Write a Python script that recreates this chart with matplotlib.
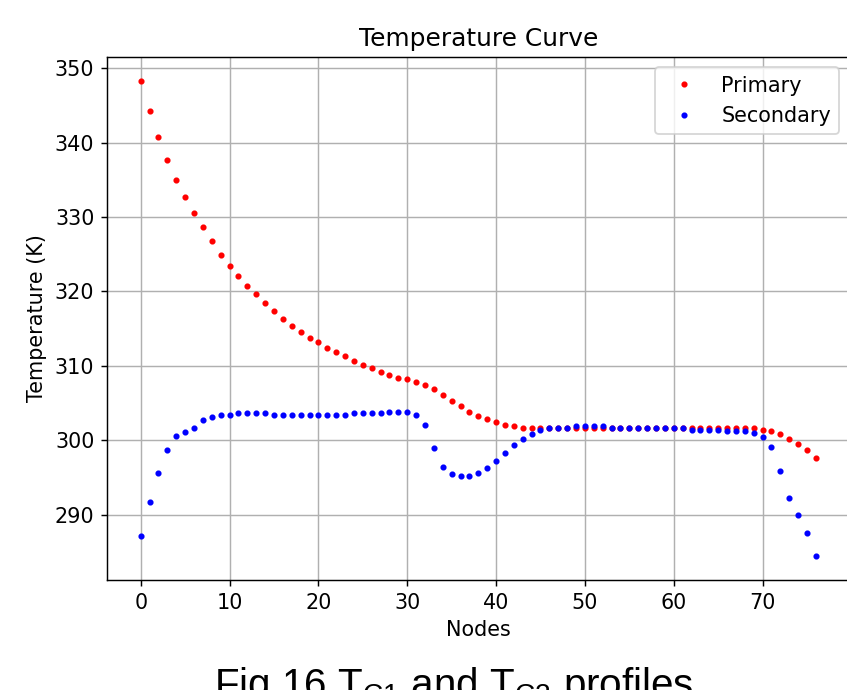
import numpy as np
import matplotlib
matplotlib.use("Agg")
import matplotlib.pyplot as plt

# Node index along the exchanger
nodes = list(range(77))

# Primary side temperature (K)
primary = [348.3, 344.2, 340.7, 337.7, 335.0, 332.7, 330.5, 328.6, 326.7, 324.9,
           323.4, 322.1, 320.7, 319.6, 318.5, 317.3, 316.3, 315.4, 314.6, 313.7,
           313.2, 312.4, 311.8, 311.3, 310.7, 310.1, 309.7, 309.2, 308.8, 308.4,
           308.2, 307.8, 307.4, 306.9, 306.1, 305.3, 304.6, 303.8, 303.3, 302.9,
           302.5, 302.1, 301.9, 301.7, 301.7, 301.7, 301.7, 301.7, 301.7, 301.7,
           301.7, 301.7, 301.7, 301.7, 301.7, 301.7, 301.7, 301.7, 301.7, 301.7,
           301.7, 301.7, 301.6, 301.6, 301.6, 301.6, 301.6, 301.6, 301.6, 301.6,
           301.4, 301.2, 300.8, 300.2, 299.5, 298.7, 297.6]

# Secondary side temperature (K)
secondary = [287.1, 291.7, 295.6, 298.7, 300.6, 301.1, 301.7, 302.7, 303.1, 303.4,
             303.4, 303.6, 303.6, 303.6, 303.6, 303.4, 303.4, 303.4, 303.4, 303.4,
             303.4, 303.4, 303.4, 303.4, 303.6, 303.7, 303.7, 303.7, 303.8, 303.8,
             303.8, 303.4, 302.1, 298.9, 296.4, 295.5, 295.2, 295.2, 295.6, 296.2,
             297.2, 298.3, 299.3, 300.2, 300.8, 301.3, 301.6, 301.7, 301.7, 301.9,
             301.9, 301.9, 301.9, 301.7, 301.7, 301.7, 301.7, 301.6, 301.6, 301.6,
             301.6, 301.6, 301.4, 301.4, 301.4, 301.4, 301.2, 301.2, 301.2, 300.9,
             300.4, 299.1, 295.8, 292.2, 290.0, 287.5, 284.4]

plt.rcParams['font.size'] = 11.5
plt.rcParams['mathtext.fontset'] = 'custom'
plt.rcParams['mathtext.rm'] = 'Liberation Sans'
plt.rcParams['mathtext.it'] = 'Liberation Sans'

fig = plt.figure(figsize=(847 / 130, 690 / 130), dpi=130)
ax = fig.add_axes([0.1263, 0.1594, 0.8768, 0.758])

ax.plot(nodes, primary, 'r.', ms=4.8, label='Primary')
ax.plot(nodes, secondary, 'b.', ms=4.8, label='Secondary')
ax.set_title('Temperature Curve')
ax.set_xlabel('Nodes')
ax.set_ylabel('Temperature (K)')
ax.grid(True)
ax.legend(loc='upper right')

# caption under the chart (cut by the bottom edge like the original)
fig.text(0.536, -0.0105, r'Fig 16 T$_{\mathrm{C1}}$ and T$_{\mathrm{C2}}$ profiles',
         ha='center', va='baseline', fontsize=22.4, family='Liberation Sans')

fig.savefig('out.png', dpi=130)
